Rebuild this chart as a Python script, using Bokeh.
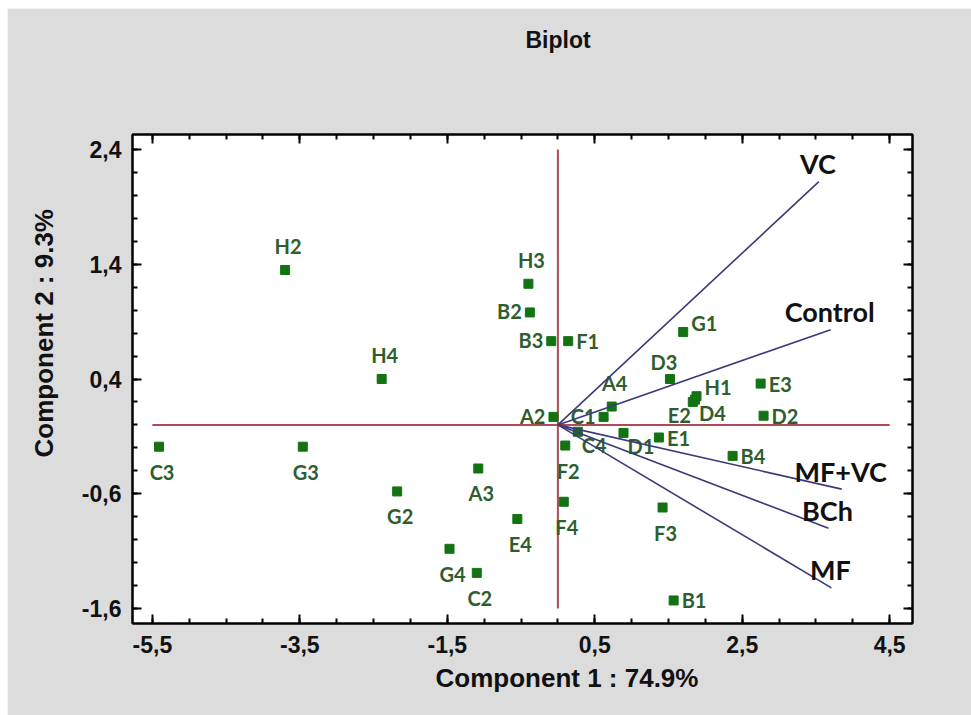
import math
from bokeh.plotting import figure
from bokeh.models import (FixedTicker, CustomJSTickFormatter, LinearAxis, Range1d,
                          Title, Spacer, ColumnDataSource)
from bokeh.layouts import column, row
from bokeh.embed import file_html
from bokeh.resources import INLINE
from bokeh.core.properties import value

# ---------------- data ----------------
title_text = "Biplot"
x_label = "Component 1 : 74.9%"
y_label = "Component 2 : 9.3%"

x_ticks = [-5.5, -3.5, -1.5, 0.5, 2.5, 4.5]
y_ticks = [-1.6, -0.6, 0.4, 1.4, 2.4]
x_minor = [-5.5 + 0.5 * i for i in range(21)]
y_minor = [-1.6 + 0.2 * i for i in range(21)]

point_names = ["H2", "H4", "C3", "G3", "G2", "A3", "E4", "G4", "C2", "F2", "F4",
               "B1", "F3", "H3", "B2", "B3", "F1", "A2", "C1", "A4", "C4", "D1",
               "E1", "D3", "G1", "H1", "E2", "D4", "E3", "D2", "B4"]
pc1 = [-3.70, -2.39, -5.41, -3.46, -2.18, -1.08, -0.55, -1.47, -1.10, 0.10, 0.08,
       1.57, 1.42, -0.40, -0.38, -0.09, 0.14, -0.06, 0.62, 0.73, 0.27, 0.89,
       1.37, 1.52, 1.70, 1.88, 1.83, 1.86, 2.75, 2.79, 2.37]
pc2 = [1.35, 0.40, -0.19, -0.19, -0.58, -0.38, -0.82, -1.08, -1.29, -0.18, -0.67,
       -1.53, -0.72, 1.23, 0.98, 0.73, 0.73, 0.07, 0.07, 0.16, -0.06, -0.07,
       -0.11, 0.40, 0.81, 0.25, 0.20, 0.22, 0.36, 0.08, -0.27]

vec_names = ["VC", "Control", "MF+VC", "BCh", "MF"]
vec_x = [3.54, 3.70, 3.85, 3.67, 3.71]
vec_y = [2.12, 0.83, -0.56, -0.90, -1.42]

# label placement around each point (layout only)
label_side = {"H2": "N", "H4": "N", "C3": "S", "G3": "S", "G2": "S", "A3": "S",
              "E4": "S", "G4": "S", "C2": "S", "F2": "S", "F4": "S", "B1": "E",
              "F3": "S", "H3": "N", "B2": "W", "B3": "W", "F1": "E", "A2": "W",
              "C1": "W", "A4": "N", "C4": "SE", "D1": "SE", "E1": "E", "D3": "NW",
              "G1": "NE", "H1": "NE", "E2": "SW", "D4": "SE", "E3": "E", "D2": "E",
              "B4": "E"}
side_style = {"N": (3, -24, "center"), "S": (3, 25, "center"), "E": (8, 0, "left"),
              "W": (-8, -1, "right"), "NE": (8, -9, "left"), "SE": (4, 13, "left"),
              "SW": (-2, 13, "right"), "NW": (-6, -17, "center")}

# ---------------- styles ----------------
BG = "#dcdcdc"
MARK = "#137313"
LAB = "#2e5e2e"
ZERO = "#b04a58"
VEC = "#3a3a7a"
AX_FONT = "Liberation Sans"

p = figure(width=964, height=707, title=None,
           x_range=Range1d(-5.77, 4.81), y_range=Range1d(-1.731, 2.531),
           output_backend="svg", toolbar_location=None,
           min_border_left=125, min_border_right=59, min_border_top=126, min_border_bottom=92,
           background_fill_color="white", border_fill_color=BG,
           outline_line_color="black", outline_line_width=2)
p.grid.visible = False

fmt = CustomJSTickFormatter(code="return tick.toFixed(1).replace('.', ',');")
empty = CustomJSTickFormatter(code="return '';")

def style_axis(ax, labels=True):
    ax.major_tick_in = 9
    ax.major_tick_out = 0
    ax.minor_tick_in = 5
    ax.minor_tick_out = 0
    ax.axis_line_width = 2
    ax.major_tick_line_width = 2
    ax.minor_tick_line_width = 2
    ax.axis_line_color = "black"
    ax.major_tick_line_color = "black"
    ax.minor_tick_line_color = "black"
    ax.major_label_text_font = AX_FONT
    ax.major_label_text_font_style = "bold"
    ax.major_label_text_font_size = "23px" if labels else "0px"
    ax.major_label_text_color = "#111111"
    if not labels:
        ax.major_label_standoff = 0

xt = FixedTicker(ticks=x_ticks, minor_ticks=x_minor)
yt = FixedTicker(ticks=y_ticks, minor_ticks=y_minor)

p.xaxis.ticker = xt
p.xaxis.formatter = fmt
p.yaxis.ticker = yt
p.yaxis.formatter = fmt
for ax in p.xaxis:
    style_axis(ax)
    ax.major_label_standoff = 12
for ax in p.yaxis:
    style_axis(ax)
    ax.major_label_standoff = 11

top_ax = LinearAxis(ticker=xt, formatter=empty)
style_axis(top_ax, labels=False)
p.add_layout(top_ax, "above")
right_ax = LinearAxis(ticker=yt, formatter=empty)
style_axis(right_ax, labels=False)
p.add_layout(right_ax, "right")

# titles (panels stack outward from the frame)
p.add_layout(Title(text=" ", text_font_size="2px", standoff=78), "above")
p.add_layout(Title(text=title_text, align="left", offset=393, vertical_align="bottom",
                   standoff=0, text_font=AX_FONT, text_font_style="bold",
                   text_font_size="23px", text_color="#111111"), "above")
p.add_layout(Title(text=x_label, align="left", offset=303, vertical_align="top",
                   standoff=14, text_font=AX_FONT, text_font_style="bold",
                   text_font_size="26px", text_color="#111111"), "below")
p.add_layout(Title(text=y_label, align="left", offset=166, vertical_align="top",
                   standoff=36, text_font=AX_FONT, text_font_style="bold",
                   text_font_size="26px", text_color="#111111"), "left")

# zero reference lines spanning the tick range
p.line([x_ticks[0], x_ticks[-1]], [0, 0], line_color=ZERO, line_width=2)
p.line([0, 0], [y_ticks[0], y_ticks[-1]], line_color=ZERO, line_width=2)

# points
src = ColumnDataSource(dict(x=pc1, y=pc2, name=point_names))
p.scatter("x", "y", source=src, marker="square", size=9,
          fill_color=MARK, line_color=MARK)

# point labels grouped by side
for side, (dx, dy, align) in side_style.items():
    idx = [i for i, n in enumerate(point_names) if label_side[n] == side]
    if not idx:
        continue
    p.text([pc1[i] for i in idx], [pc2[i] for i in idx], [point_names[i] for i in idx],
           x_offset=dx, y_offset=dy, text_align=align, text_baseline="middle",
           text_font=value("Lato"), text_font_style="bold", text_font_size="20px",
           text_color=LAB)

# loading vectors
p.segment([0] * len(vec_x), [0] * len(vec_y), vec_x, vec_y,
          line_color=VEC, line_width=1.6)
p.text(vec_x, vec_y, vec_names, x_offset=-1, y_offset=-18, text_align="center",
       text_baseline="middle", text_font=value("Lato"), text_font_style="bold",
       text_font_size="27px", text_color="#111111")

layout = column(Spacer(height=8, width=971), row(Spacer(width=7, height=707), p))
open("out.html", "w").write(file_html(layout, INLINE))
